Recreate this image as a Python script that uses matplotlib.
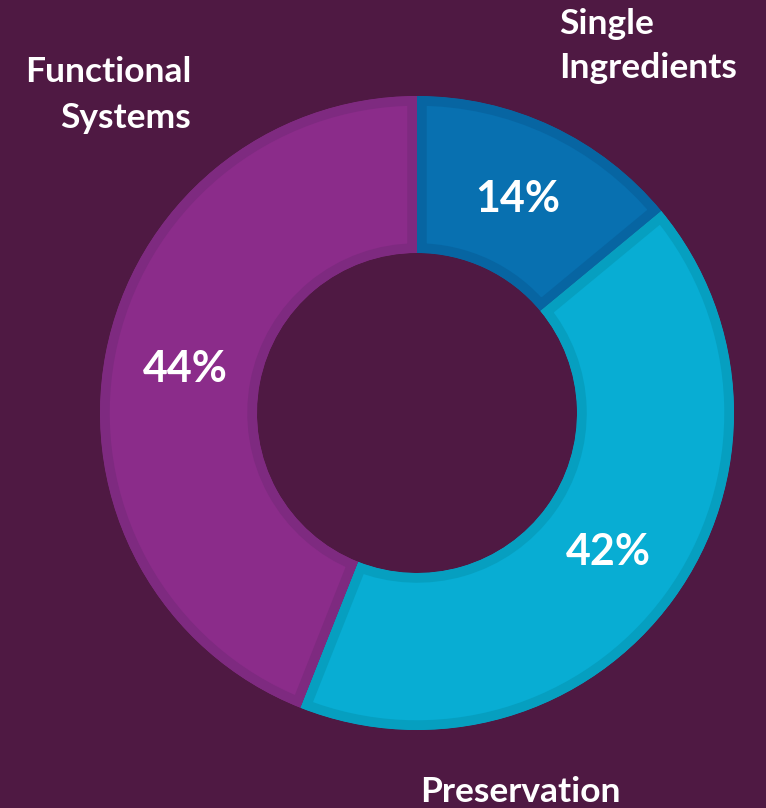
import matplotlib.pyplot as plt

segments = ['Single\nIngredients', 'Preservation', 'Functional\nSystems']
shares = [14, 42, 44]
fill_colors = ['#0870B0', '#08ADD3', '#8B2C8A']
edge_colors = ['#0765A2', '#069FC0', '#7E2A80']
bg = '#4F1943'

fig = plt.figure(figsize=(7.66, 8.08), dpi=100, facecolor=bg)
ax = fig.add_axes([0, 0, 1, 1])
ax.set_facecolor(bg)

# pie laid out in pixel units so it sits where it should on the canvas
cx, cy = 417, 808 - 413
R = 317
wedges, _, pct = ax.pie(
    shares, colors=fill_colors, startangle=90, counterclock=False,
    center=(cx, cy), radius=R, autopct='%d%%', pctdistance=0.745,
    wedgeprops=dict(width=157, linewidth=0),
    textprops=dict(color='white', fontsize=31, fontweight='bold', family='Lato'))

# darker inner border on each segment: thick edge clipped to the wedge itself
for w, ec in zip(wedges, edge_colors):
    w.set_edgecolor(ec)
    w.set_linewidth(14)
    w.set_clip_on(True)
    w.set_clip_path(w)

ax.set_xlim(0, 766)
ax.set_ylim(0, 808)
ax.set_aspect('equal')
ax.axis('off')

lab = dict(color='white', fontsize=25.5, fontweight='bold', family='Lato', linespacing=1.5)
ax.text(559, 808 - 46, segments[0], ha='left', va='center', **lab)
ax.text(520, 808 - 792, segments[1], ha='center', va='center', **lab)
ax.text(191, 808 - 95, segments[2], ha='right', va='center', multialignment='right', **lab)

fig.savefig('out.png', dpi=100, facecolor=bg)
